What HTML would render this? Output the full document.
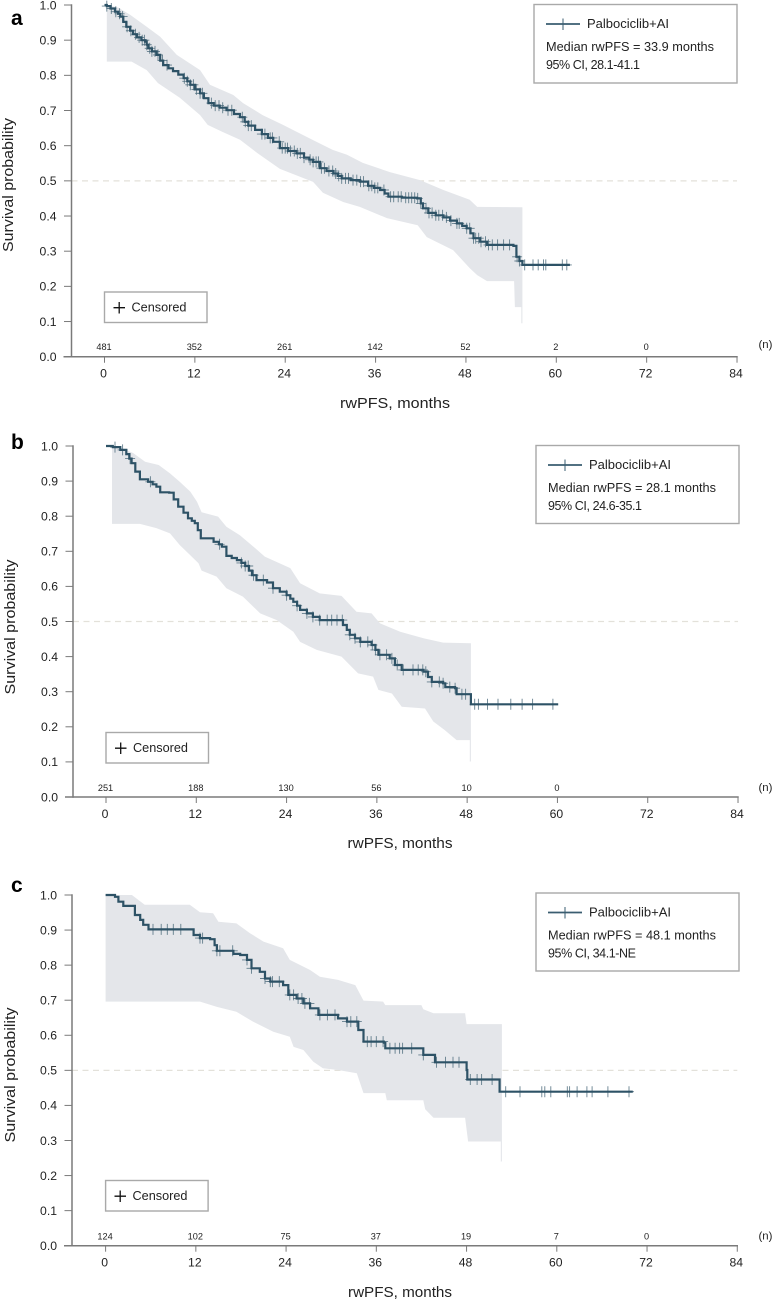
<!DOCTYPE html>
<html lang="en">
<head>
<meta charset="utf-8">
<title>Kaplan-Meier rwPFS curves</title>
<style>
html,body{margin:0;padding:0;background:#fff;}
svg{display:block;font-family:"Liberation Sans",Arial,sans-serif;fill:#222;}
</style>
</head>
<body>
<svg id="figure" xmlns="http://www.w3.org/2000/svg" width="774" height="1300" viewBox="0 0 774 1300">
  <rect x="0" y="0" width="774" height="1300" fill="#fff"/>

  <g id="panel-a">
    <g id="marks-a"></g>
    <text x="11" y="25" font-size="21" font-weight="bold" fill="#000">a</text>
    <text transform="translate(13,185) rotate(-90)" text-anchor="middle" font-size="14.5" textLength="134" lengthAdjust="spacingAndGlyphs">Survival probability</text>
    <text x="395" y="408" text-anchor="middle" font-size="14.5" textLength="110" lengthAdjust="spacingAndGlyphs">rwPFS, months</text>
    <g>
      <rect x="534" y="4.5" width="203" height="78.5" fill="#fff" stroke="#a9a9a9" stroke-width="1.4"/>
      <line x1="546" y1="24" x2="580" y2="24" stroke="#3a5d70" stroke-width="1.8"/>
      <line x1="563" y1="18.5" x2="563" y2="30" stroke="#3a5d70" stroke-width="1"/>
      <text x="587" y="28" font-size="12.5" textLength="82" lengthAdjust="spacingAndGlyphs">Palbociclib+AI</text>
      <text x="546" y="51" font-size="12.5" textLength="168" lengthAdjust="spacingAndGlyphs">Median rwPFS = 33.9 months</text>
      <text x="546" y="69" font-size="12.5" textLength="94" lengthAdjust="spacing">95% CI, 28.1-41.1</text>
    </g>
    <g>
      <rect x="104.5" y="292" width="102.5" height="30.5" fill="#fff" stroke="#a9a9a9" stroke-width="1.4"/>
      <path d="M113.5 307.7H125M119.2 302V313.5" stroke="#111" stroke-width="1.3" fill="none"/>
      <text x="131.5" y="311.5" font-size="12.8" textLength="55" lengthAdjust="spacingAndGlyphs">Censored</text>
    </g>
  </g>

  <g id="panel-b">
    <g id="marks-b"></g>
    <text x="11" y="449" font-size="21" font-weight="bold" fill="#000">b</text>
    <text transform="translate(15,627) rotate(-90)" text-anchor="middle" font-size="14.5" textLength="135" lengthAdjust="spacingAndGlyphs">Survival probability</text>
    <text x="400" y="848" text-anchor="middle" font-size="14.5" textLength="105" lengthAdjust="spacingAndGlyphs">rwPFS, months</text>
    <g>
      <rect x="536" y="445.5" width="203" height="78" fill="#fff" stroke="#a9a9a9" stroke-width="1.4"/>
      <line x1="548" y1="465" x2="582" y2="465" stroke="#3a5d70" stroke-width="1.8"/>
      <line x1="565" y1="459.5" x2="565" y2="471" stroke="#3a5d70" stroke-width="1"/>
      <text x="589" y="469" font-size="12.5" textLength="82" lengthAdjust="spacingAndGlyphs">Palbociclib+AI</text>
      <text x="548" y="492" font-size="12.5" textLength="168" lengthAdjust="spacingAndGlyphs">Median rwPFS = 28.1 months</text>
      <text x="548" y="510" font-size="12.5" textLength="94" lengthAdjust="spacing">95% CI, 24.6-35.1</text>
    </g>
    <g>
      <rect x="106" y="732.5" width="102.5" height="30.5" fill="#fff" stroke="#a9a9a9" stroke-width="1.4"/>
      <path d="M115 748.2H126.5M120.7 742.5V754" stroke="#111" stroke-width="1.3" fill="none"/>
      <text x="133" y="752" font-size="12.8" textLength="55" lengthAdjust="spacingAndGlyphs">Censored</text>
    </g>
  </g>

  <g id="panel-c">
    <g id="marks-c"></g>
    <text x="11" y="892" font-size="21" font-weight="bold" fill="#000">c</text>
    <text transform="translate(15,1075) rotate(-90)" text-anchor="middle" font-size="14.5" textLength="135" lengthAdjust="spacingAndGlyphs">Survival probability</text>
    <text x="400" y="1297" text-anchor="middle" font-size="14.5" textLength="104" lengthAdjust="spacingAndGlyphs">rwPFS, months</text>
    <g>
      <rect x="536" y="893" width="203" height="78" fill="#fff" stroke="#a9a9a9" stroke-width="1.4"/>
      <line x1="548" y1="912.5" x2="582" y2="912.5" stroke="#3a5d70" stroke-width="1.8"/>
      <line x1="565" y1="907" x2="565" y2="918.5" stroke="#3a5d70" stroke-width="1"/>
      <text x="589" y="916.5" font-size="12.5" textLength="82" lengthAdjust="spacingAndGlyphs">Palbociclib+AI</text>
      <text x="548" y="939.5" font-size="12.5" textLength="168" lengthAdjust="spacingAndGlyphs">Median rwPFS = 48.1 months</text>
      <text x="548" y="957.5" font-size="12.5" textLength="88" lengthAdjust="spacing">95% CI, 34.1-NE</text>
    </g>
    <g>
      <rect x="105.6" y="1180.5" width="102.5" height="30.5" fill="#fff" stroke="#a9a9a9" stroke-width="1.4"/>
      <path d="M114.5 1196.2H126M120.2 1190.5V1202" stroke="#111" stroke-width="1.3" fill="none"/>
      <text x="132.5" y="1200" font-size="12.8" textLength="55" lengthAdjust="spacingAndGlyphs">Censored</text>
    </g>
  </g>
</svg>

<script>
// ---- Shared axis tick labels ----
const xTickMonths = [0, 12, 24, 36, 48, 60, 72, 84];
const yTickValues = [0.0, 0.1, 0.2, 0.3, 0.4, 0.5, 0.6, 0.7, 0.8, 0.9, 1.0];
const referenceSurvival = 0.5;

// ---- Panel a ----
const aAtRisk = ['481', '352', '261', '142', '52', '2', '0'];
const aMonths = [0,0.3,0.8,1.4,1.8,2.1,2.5,2.9,3.4,3.8,4.3,4.9,5.4,5.6,5.8,6.3,6.9,7.4,7.8,8.5,9.1,9.8,10.5,11,11.4,12,12.7,13.2,13.8,14.5,15.3,16.2,17.2,18,18.6,19.1,20,20.9,21.7,22.4,23.3,24.4,25.5,26.5,27.2,27.7,28.6,29.5,30.4,31,31.5,32.7,33.9,35,35.8,36.6,37.2,37.7,39.5,41.5,42,42.3,43,44,45,45.9,46.8,47.5,48.1,48.6,49,49.9,50.8,54.3,54.7,55.1,55.5,61.8];
const aSurvival = [1,0.997,0.99,0.981,0.975,0.967,0.952,0.938,0.927,0.917,0.908,0.9,0.896,0.887,0.877,0.868,0.858,0.842,0.829,0.82,0.812,0.802,0.792,0.783,0.773,0.76,0.749,0.735,0.721,0.714,0.708,0.701,0.69,0.681,0.668,0.657,0.645,0.633,0.622,0.611,0.593,0.585,0.578,0.566,0.56,0.554,0.536,0.528,0.521,0.514,0.507,0.502,0.498,0.486,0.48,0.474,0.464,0.455,0.452,0.45,0.436,0.422,0.409,0.402,0.396,0.387,0.379,0.372,0.365,0.351,0.337,0.327,0.318,0.315,0.284,0.272,0.261,0.261];
const aUpperMonths = [0.3,1.8,3.4,5.6,7.4,9.6,12.7,14.0,17.1,18.4,21.0,23.7,27.7,30.3,32.2,34.3,37.9,41.9,45.0,48.5,49.5,55.5];
const aUpper = [1,0.993,0.972,0.938,0.91,0.858,0.815,0.773,0.744,0.721,0.687,0.659,0.616,0.588,0.574,0.551,0.525,0.502,0.474,0.446,0.426,0.425];
const aLowerMonths = [0.3,3.6,5.6,7.1,10.0,12.7,13.7,15.7,18.0,20.3,23.3,27.7,29.0,31.7,33.9,37.5,41.6,42.8,46.3,48.5,49.5,50.8,54.4,54.5,55.35,55.35,55.5];
const aLower = [0.839,0.839,0.815,0.778,0.736,0.687,0.659,0.639,0.617,0.579,0.534,0.497,0.466,0.44,0.426,0.394,0.374,0.34,0.303,0.252,0.232,0.215,0.215,0.141,0.141,0.095,0.095];
const aCensored = [0.3,0.9,1.5,2,2.4,3,3.5,4.1,4.6,5,5.3,5.6,6,6.3,6.7,7.1,7.7,8.3,10.6,11,11.4,11.8,12.2,12.7,13,14.2,14.7,15.2,15.7,16.4,16.9,18.3,18.7,19.1,19.5,20.9,21.3,22,22.3,23.2,23.6,24,24.3,24.7,25.2,25.6,26,26.5,27.3,27.7,28.1,28.4,28.8,29.2,29.8,30.3,30.7,31.1,31.5,32,32.4,33,33.5,34,34.4,35.1,35.5,35.9,36.3,37.1,38,38.4,39,39.4,40,40.4,40.8,41.2,41.6,42,42.7,43.1,43.5,44,44.4,44.9,45.4,46,46.8,47.1,48.1,48.5,49,49.3,49.7,50,50.6,51,51.5,52.2,53,53.8,54.8,55.1,55.8,56.9,57.6,58.3,58.6,60.8,61.4];

// ---- Panel b ----
const bAtRisk = ['251', '188', '130', '56', '10', '0'];
const bMonths = [0,0.9,1.9,2.7,3.1,3.4,3.9,4.5,5.6,6.2,6.7,7.2,8.4,9,9.6,10.3,10.9,11.4,11.8,12.2,12.6,14.3,15,15.4,16,16.7,17.4,18,18.5,19,19.4,20,21.4,22.2,23.1,24,24.5,24.9,25.4,25.8,26.7,27.5,28.4,31.5,32,32.4,33.1,33.8,35.3,35.8,36.2,37.7,38.4,39.3,42.2,42.8,43.3,44.8,45.1,46.4,46.6,48.4,48.5,60.1];
const bSurvival = [1,0.997,0.989,0.977,0.964,0.951,0.927,0.905,0.898,0.891,0.884,0.868,0.867,0.848,0.827,0.81,0.794,0.787,0.78,0.76,0.737,0.727,0.72,0.713,0.687,0.681,0.675,0.667,0.658,0.645,0.632,0.618,0.611,0.595,0.585,0.575,0.565,0.556,0.545,0.533,0.523,0.513,0.504,0.49,0.476,0.462,0.452,0.442,0.433,0.419,0.405,0.395,0.376,0.362,0.357,0.342,0.328,0.324,0.313,0.31,0.293,0.293,0.264,0.264];
const bUpperMonths = [0.8,2.1,3.6,5.2,7.0,8.5,9.8,11.2,12.1,12.7,14.9,16.0,17.8,19.6,21.1,24.5,25.8,28.4,31.3,33.3,35.3,36.4,39.1,42.2,44.8,48.5];
const bUpper = [1,0.994,0.98,0.955,0.946,0.922,0.898,0.87,0.841,0.811,0.799,0.77,0.746,0.713,0.685,0.652,0.609,0.58,0.573,0.528,0.523,0.495,0.471,0.452,0.44,0.438];
const bLowerMonths = [0.8,4.5,6.7,8.5,9.8,11.2,12.3,12.7,14.7,16.0,18.2,20.5,22.7,24.9,25.8,28.0,31.3,33.5,35.5,36.2,38.0,39.3,42.4,43.5,45.0,46.6,48.35,48.35,48.5];
const bLower = [0.778,0.778,0.766,0.751,0.718,0.689,0.666,0.645,0.628,0.595,0.571,0.523,0.504,0.471,0.442,0.419,0.4,0.352,0.343,0.305,0.295,0.257,0.252,0.215,0.191,0.162,0.162,0.101,0.101];
const bCensored = [1.2,2.2,3.2,5.9,15.1,18,18.5,18.9,19.6,20.9,22.2,24,25.4,26.7,27.5,28.4,29.4,30,30.7,31.4,32.4,33.1,33.8,34.8,35.4,35.8,36.4,37.3,38,38.7,39.5,40.8,41.5,42.1,42.5,43.3,44.3,44.8,45.7,46.4,47.3,47.8,49,49.5,50.7,52.1,53.8,55.3,56.7,59.4];

// ---- Panel c ----
const cAtRisk = ['124', '102', '75', '37', '19', '7', '0'];
const cMonths = [0,1.25,1.7,2.35,3.6,3.9,4.6,5.0,5.7,11.4,11.7,12.55,13.9,14.5,14.8,16.5,17.0,17.9,18.8,19.4,20.5,21.2,21.9,23.6,24.3,25.4,26.3,27.2,28.3,30.9,32.1,33.2,33.6,34.3,37.0,37.2,42.2,42.25,43.6,43.8,47.8,48.0,48.1,52.35,52.4,70.1];
const cSurvival = [1,0.995,0.981,0.969,0.969,0.943,0.929,0.915,0.902,0.902,0.886,0.877,0.874,0.857,0.841,0.841,0.832,0.829,0.815,0.791,0.781,0.762,0.753,0.743,0.715,0.705,0.691,0.677,0.658,0.648,0.639,0.639,0.615,0.582,0.579,0.563,0.563,0.544,0.544,0.523,0.523,0.501,0.474,0.474,0.439,0.439];
const cUpperMonths = [0,3.5,5.2,11.2,12.55,14.3,15.0,17.4,19.2,21.0,23.6,24.5,27.2,28.5,30.9,33.2,34.3,36.9,37.2,42.0,42.25,43.6,47.8,48.0,52.7];
const cUpper = [1,1,0.972,0.972,0.951,0.948,0.924,0.919,0.891,0.867,0.848,0.815,0.786,0.767,0.758,0.743,0.699,0.696,0.686,0.686,0.674,0.663,0.663,0.632,0.632];
const cLowerMonths = [0,12.55,14.8,17.4,19.6,22.3,24.5,25.0,26.3,27.6,28.9,30.9,33.4,34.3,37.2,37.4,42.25,42.5,43.6,47.8,48.2,52.55,52.55,52.7];
const cLower = [0.696,0.696,0.681,0.667,0.639,0.61,0.596,0.567,0.558,0.525,0.506,0.501,0.492,0.435,0.435,0.415,0.415,0.389,0.365,0.365,0.297,0.297,0.24,0.24];
const cCensored = [6.3,7.4,8.2,9.0,10.0,12.55,12.9,14.8,15.2,16.9,18.8,19.4,21.2,21.9,22.2,23.1,24.5,25,25.6,26.1,26.5,27.1,28.5,29.5,30.5,32.1,32.6,33.4,34.8,35.3,36,36.9,37.8,38.5,39.1,39.5,40.7,42.25,44,45.2,46.2,47,48.5,49.4,50,51.4,53.2,55.1,58,58.4,59.2,61.4,61.7,62.7,64,64.7,66.8,69.6];

// ---- Rendering ----
const SVG_NS = 'http://www.w3.org/2000/svg';
const AXIS_COLOR = '#7a7a7a';
const BAND_COLOR = '#e4e6ea';
const LINE_COLOR = '#2d5266';
const TICK_COLOR = '#4c6b7b';

function make(parent, tag, attrs, text) {
  const el = document.createElementNS(SVG_NS, tag);
  for (const k in attrs) el.setAttribute(k, attrs[k]);
  if (text !== undefined) el.textContent = text;
  parent.appendChild(el);
  return el;
}

function survivalAt(months, survival, t) {
  let s = survival[0];
  for (let i = 0; i < months.length; i++) {
    if (months[i] <= t) s = survival[i]; else break;
  }
  return s;
}

function drawPanel(id, geo, atRisk, months, survival, upperMonths, upper, lowerMonths, lower, censored) {
  const root = document.getElementById('marks-' + id);
  const sx = m => geo.x0 + m * geo.perMonth;
  const sy = v => geo.y0 - v * (geo.y0 - geo.y1);

  // dashed reference line
  const ref = make(root, 'line', {x1: geo.axisX, x2: sx(84), y1: sy(referenceSurvival), y2: sy(referenceSurvival), stroke: '#e3e1da', 'stroke-width': 1.2, 'stroke-dasharray': '6 4.5'});
  
  

  // confidence band
  let d = '';
  upperMonths.forEach((m, i) => { d += (i ? 'L' : 'M') + sx(m).toFixed(1) + ' ' + sy(upper[i]).toFixed(1); });
  for (let i = lowerMonths.length - 1; i >= 0; i--) {
    d += 'L' + sx(lowerMonths[i]).toFixed(1) + ' ' + sy(lower[i]).toFixed(1);
  }
  const band = make(root, 'path', {d: d + 'Z', fill: BAND_COLOR, stroke: 'none'});
  
  

  // axes
  const yAxis = make(root, 'line', {x1: geo.axisX, x2: geo.axisX, y1: sy(1) - 0.7, y2: sy(0) + 0.7, stroke: AXIS_COLOR, 'stroke-width': 1.5});
  
  
  const xAxis = make(root, 'line', {x1: geo.axisX - 8, x2: sx(84) + 0.7, y1: sy(0), y2: sy(0), stroke: AXIS_COLOR, 'stroke-width': 1.5});
  
  

  yTickValues.forEach(v => {
    const tick = make(root, 'line', {x1: geo.axisX - 7.5, x2: geo.axisX, y1: sy(v), y2: sy(v), stroke: AXIS_COLOR, 'stroke-width': 1});
    
    
    const label = make(root, 'text', {x: geo.axisX - 15, y: sy(v) + 4.3, 'text-anchor': 'end', 'font-size': 12.2}, v.toFixed(1));
    
    
  });

  xTickMonths.forEach(m => {
    const tick = make(root, 'line', {x1: sx(m), x2: sx(m), y1: sy(0), y2: sy(0) + 6, stroke: AXIS_COLOR, 'stroke-width': 1});
    
    
    const label = make(root, 'text', {x: sx(m) - 1, y: sy(0) + 21, 'text-anchor': 'middle', 'font-size': 12.2}, String(m));
    
    
  });

  atRisk.forEach((n, i) => {
    const label = make(root, 'text', {x: sx(xTickMonths[i]) - 0.5, y: sy(0) - geo.riskGap, 'text-anchor': 'middle', 'font-size': 9.2}, n);
    
    
  });
  const nLabel = make(root, 'text', {x: 758.5, y: sy(0) - geo.nGap, 'font-size': 11.4}, '(n)');
  
  

  // censor marks (under the curve)
  censored.forEach(t => {
    const s = survivalAt(months, survival, t);
    const mark = make(root, 'path', {
      d: 'M' + (sx(t) - 5).toFixed(1) + ' ' + sy(s).toFixed(1) + 'h10M' + sx(t).toFixed(1) + ' ' + (sy(s) - 5.5).toFixed(1) + 'v11',
      stroke: TICK_COLOR, 'stroke-width': 0.9, fill: 'none', opacity: 0.85
    });
    
    
  });

  // Kaplan-Meier step curve
  let line = 'M' + sx(months[0]).toFixed(1) + ' ' + sy(survival[0]).toFixed(1);
  for (let i = 1; i < months.length; i++) {
    line += 'H' + sx(months[i]).toFixed(1) + 'V' + sy(survival[i]).toFixed(1);
  }
  const curve = make(root, 'path', {d: line, fill: 'none', stroke: LINE_COLOR, 'stroke-width': 2.2, 'stroke-linejoin': 'miter'});
  
  
}

drawPanel('a', {x0: 104.5, perMonth: 7.53, y0: 356.7, y1: 5, axisX: 71.5, riskGap: 6.7, nGap: 8.7}, aAtRisk, aMonths, aSurvival, aUpperMonths, aUpper, aLowerMonths, aLower, aCensored);
drawPanel('b', {x0: 106, perMonth: 7.524, y0: 797, y1: 446, axisX: 73, riskGap: 6, nGap: 6}, bAtRisk, bMonths, bSurvival, bUpperMonths, bUpper, bLowerMonths, bLower, bCensored);
drawPanel('c', {x0: 105.6, perMonth: 7.52, y0: 1245.7, y1: 895, axisX: 72, riskGap: 6, nGap: 6}, cAtRisk, cMonths, cSurvival, cUpperMonths, cUpper, cLowerMonths, cLower, cCensored);
</script>
</body>
</html>
